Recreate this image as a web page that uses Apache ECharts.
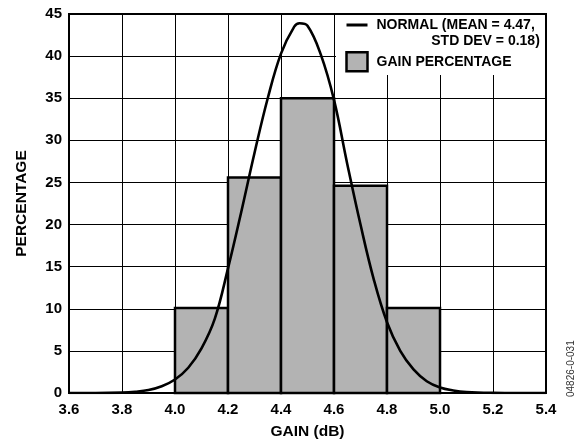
<!DOCTYPE html>
<html>
<head>
<meta charset="utf-8">
<script src="https://cdn.jsdelivr.net/npm/echarts@6/dist/echarts.min.js"></script>
<style>html,body{margin:0;padding:0;background:#fff}#c{width:584px;height:445px}</style>
</head>
<body>
<div id="c"></div>
<script>
// Histogram bins (dB) and gain percentage
var binStart = [4.0, 4.2, 4.4, 4.6, 4.8];
var binEnd   = [4.2, 4.4, 4.6, 4.8, 5.0];
var gainPct  = [10.1, 25.6, 35.0, 24.6, 10.1];
// Normal curve
var curveX = [3.6, 3.7, 3.8, 3.85, 3.9, 3.95, 4.0, 4.05, 4.1, 4.15, 4.2, 4.25, 4.3, 4.35, 4.4, 4.45, 4.47, 4.5, 4.55, 4.6, 4.65, 4.7, 4.75, 4.8, 4.85, 4.9, 4.95, 5.0, 5.05, 5.1, 5.2, 5.3, 5.4];
var curveY = [0, 0, 0.05, 0.15, 0.35, 0.8, 1.6, 3.0, 5.3, 8.8, 14.8, 21.5, 28.5, 35.0, 40.3, 43.5, 43.9, 43.6, 40.2, 34.8, 27.2, 20.0, 13.5, 8.4, 5.0, 2.8, 1.4, 0.65, 0.3, 0.12, 0.02, 0, 0];
var xTicks = {min: 3.6, max: 5.4, step: 0.2};
var yTicks = {min: 0, max: 45, step: 5};
var normalName = 'NORMAL';
var gainName = 'GAIN PERCENTAGE';

var FONT = '"Liberation Sans", Arial, sans-serif';
var chart = echarts.init(document.getElementById('c'));

var barData = binStart.map(function (s, i) { return [s, binEnd[i], gainPct[i]]; });
var lineData = curveX.map(function (x, i) { return [x, curveY[i]]; });

var legTxt = {fontFamily: FONT, fontWeight: 'bold', fontSize: 14, color: '#000', lineHeight: 16};

chart.setOption({
  animation: false,
  backgroundColor: '#fff',
  grid: {left: 69, right: 38, top: 14, bottom: 50, show: true, borderColor: '#000', borderWidth: 2},
  xAxis: {
    type: 'value', min: xTicks.min, max: xTicks.max, interval: xTicks.step,
    name: 'GAIN (dB)', nameLocation: 'middle', nameGap: 31,
    nameTextStyle: {fontFamily: FONT, fontWeight: 'bold', fontSize: 15.5, color: '#000'},
    axisLine: {lineStyle: {color: '#000', width: 2}},
    axisTick: {show: false},
    axisLabel: {fontFamily: FONT, fontWeight: 'bold', fontSize: 15, color: '#000', margin: 9,
      formatter: function (v) { return v.toFixed(1); }},
    splitLine: {show: true, lineStyle: {color: '#000', width: 1}}
  },
  yAxis: {
    type: 'value', min: yTicks.min, max: yTicks.max, interval: yTicks.step,
    name: 'PERCENTAGE', nameLocation: 'middle', nameGap: 39,
    nameTextStyle: {fontFamily: FONT, fontWeight: 'bold', fontSize: 15.5, color: '#000'},
    axisLine: {show: true, lineStyle: {color: '#000', width: 2}},
    axisTick: {show: false},
    axisLabel: {fontFamily: FONT, fontWeight: 'bold', fontSize: 15, color: '#000', margin: 7},
    splitLine: {show: true, lineStyle: {color: '#000', width: 1}}
  },
  legend: {
    orient: 'vertical', left: 345, top: 1, padding: 0, itemGap: 2,
    itemWidth: 21, itemHeight: 19, selectedMode: false,
    textStyle: Object.assign({}, legTxt, {
      rich: {a: Object.assign({padding: [0, 5, 0, 4]}, legTxt),
             b: Object.assign({align: 'right'}, legTxt),
             c: Object.assign({padding: [0, 0, 0, 4]}, legTxt)}}),
    data: [
      {name: normalName, itemStyle: {opacity: 0}, lineStyle: {color: '#000', width: 3}},
      {name: gainName, icon: 'rect', itemStyle: {color: '#b3b3b3', borderColor: '#000', borderWidth: 2.5}}
    ],
    formatter: function (n) {
      if (n === normalName) return ' \n{a|NORMAL (MEAN = 4.47,}\n{b|STD DEV = 0.18)}';
      return '{c|' + n + '}';
    }
  },
  graphic: [
    {type: 'rect', z: 3, shape: {x: 336, y: 15, width: 209, height: 60}, style: {fill: '#fff'}},
    {type: 'text', z: 3, x: 576, y: 397, rotation: Math.PI / 2,
      style: {text: '04826-0-031', font: '10px ' + FONT, fill: '#333', align: 'left', verticalAlign: 'bottom'}}
  ],
  series: [
    {
      name: gainName, type: 'custom', z: 2,
      data: barData,
      encode: {x: [0, 1], y: 2},
      itemStyle: {color: '#b3b3b3', borderColor: '#000', borderWidth: 2.5},
      renderItem: function (params, api) {
        var p0 = api.coord([api.value(0), api.value(2)]);
        var p1 = api.coord([api.value(1), 0]);
        return {type: 'rect',
          shape: {x: p0[0], y: p0[1], width: p1[0] - p0[0], height: p1[1] - p0[1]},
          style: {fill: '#b3b3b3', stroke: '#000', lineWidth: 2.5}};
      }
    },
    {
      name: normalName, type: 'line', z: 4, data: lineData, smooth: 0.4,
      symbol: 'none', lineStyle: {color: '#000', width: 2.6}, itemStyle: {color: '#000'}
    }
  ]
});
</script>
</body>
</html>
